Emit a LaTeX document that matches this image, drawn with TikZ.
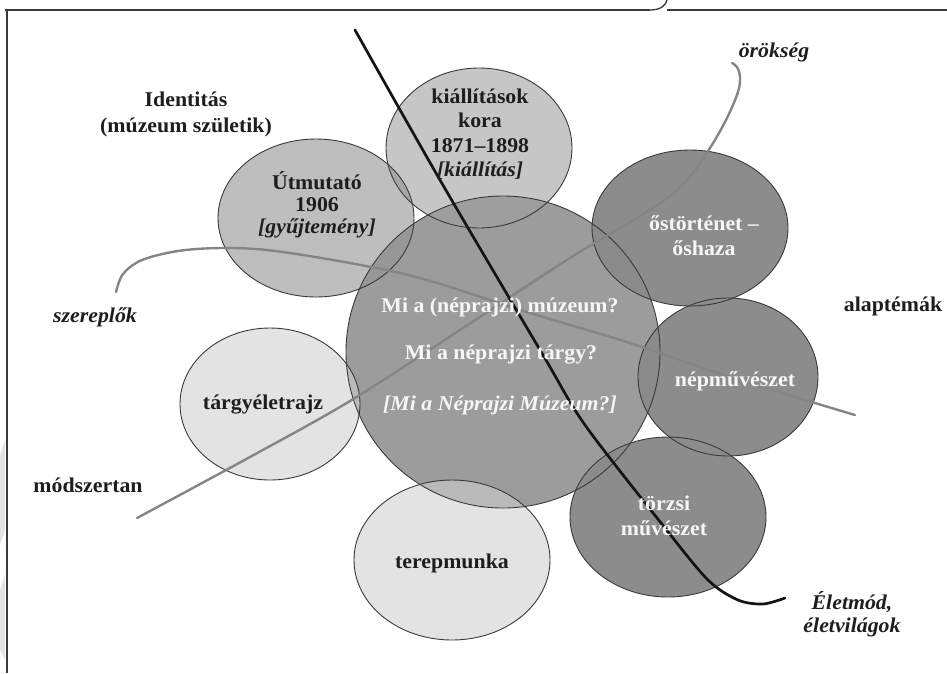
\documentclass[tikz,border=0pt]{standalone}
\usepackage{fontspec}
\setmainfont[FakeStretch=1.04]{Liberation Serif}
\definecolor{darkfill}{HTML}{8C8C8C}
\definecolor{mainfill}{HTML}{8B8B8B}
\definecolor{midfill}{HTML}{A0A0A0}
\definecolor{utfill}{HTML}{939393}
\definecolor{lightfill}{HTML}{D0D0D0}
\definecolor{edge}{HTML}{3A3A3A}
\definecolor{greyline}{HTML}{858585}
\definecolor{blackline}{HTML}{141414}
\definecolor{txtdark}{HTML}{1E1E1E}
\definecolor{txtlight}{HTML}{F6F6F6}
\definecolor{wmark}{HTML}{E2E2E2}
\begin{document}
\begin{tikzpicture}[x=1pt,y=-1pt,
  lab/.style={font=\fontsize{21}{24}\selectfont\bfseries, text=txtdark, inner sep=0pt, align=center},
  wlab/.style={lab, text=txtlight},
  edgeline/.style={draw=edge, line width=0.9pt},
  curvegrey/.style={draw=greyline, line width=2.4pt, line cap=round},
  curveblack/.style={draw=blackline, line width=2.7pt, line cap=round}]
\useasboundingbox (0,0) rectangle (947,673);
% watermark traces and frame
\fill[wmark] (0,455) -- (5,440) -- (5,530) -- (0,545) -- cycle;
\fill[wmark] (0,590) -- (5,575) -- (5,660) -- (0,650) -- cycle;
\draw[edge, line width=1.3pt] (5,10) -- (650,10);
\draw[edge, line width=1.3pt] (650,10) .. controls (661,10) and (666,5) .. (667,0);
\draw[edge, line width=1.3pt] (667,10) -- (947,10);
\draw[edge, line width=1.3pt] (7,10) -- (7,673);
% dark ellipses
\fill[darkfill] (690,228) ellipse [x radius=98pt, y radius=78pt];
\fill[darkfill] (728,377) ellipse [x radius=90pt, y radius=79pt];
\fill[darkfill] (668,517) ellipse [x radius=98pt, y radius=80pt];
% main circle
\fill[mainfill, fill opacity=0.85] (503,352) ellipse [x radius=157pt, y radius=156pt];
% light ellipses
\fill[midfill, fill opacity=0.6] (479,148) ellipse [x radius=93pt, y radius=80pt];
\fill[utfill, fill opacity=0.6] (316,218) ellipse [x radius=98pt, y radius=79pt];
\fill[lightfill, fill opacity=0.6] (270,404) ellipse [x radius=90pt, y radius=76pt];
\fill[lightfill, fill opacity=0.6] (452,560) ellipse [x radius=98pt, y radius=80pt];
% outlines
\draw[edgeline] (690,228) ellipse [x radius=98pt, y radius=78pt];
\draw[edgeline] (728,377) ellipse [x radius=90pt, y radius=79pt];
\draw[edgeline] (668,517) ellipse [x radius=98pt, y radius=80pt];
\draw[edgeline] (503,352) ellipse [x radius=157pt, y radius=156pt];
\draw[edgeline] (479,148) ellipse [x radius=93pt, y radius=80pt];
\draw[edgeline] (316,218) ellipse [x radius=98pt, y radius=79pt];
\draw[edgeline] (270,404) ellipse [x radius=90pt, y radius=76pt];
\draw[edgeline] (452,560) ellipse [x radius=98pt, y radius=80pt];
% grey curves
\draw[curvegrey] plot[smooth, tension=0.55] coordinates {(137,518) (250,457) (350,401) (460,330) (570,258) (653,208) (687,180) (710,148) (727,118) (738,92) (740,77) (737,67) (732,63)};
\draw[curvegrey] plot[smooth, tension=0.55] coordinates {(116,292) (123,274) (142,260) (178,251) (220,248) (267,250) (333,260) (400,273) (450,287) (530,313) (630,343) (730,377) (855,415)};
% black curve
\draw[curveblack] plot[smooth, tension=0.5] coordinates {(355,30) (440,180) (543,355) (585,425) (665,528) (708,580) (738,600) (763,604) (785,598)};
% texts in circles
\node[lab, font=\fontsize{21}{24.5}\selectfont\bfseries] (kiall) at (480,134) {kiállítások\\kora\\1871–1898\\\itshape [kiállítás]};
\node[lab, font=\fontsize{21}{22}\selectfont\bfseries] (utmut) at (317,205) {Útmutató\\1906\\\itshape [gyűjtemény]};
\node[wlab, font=\fontsize{21}{25}\selectfont\bfseries] (ostort) at (704,236) {őstörténet –\\őshaza};
\node[wlab] (q1) at (500,307) {Mi a (néprajzi) múzeum?};
\node[wlab] (q2) at (501,355) {Mi a néprajzi tárgy?};
\node[wlab] (q3) at (500,405) {\itshape [Mi a Néprajzi Múzeum?]};
\node[wlab] (nepmu) at (735,381) {népművészet};
\node[wlab, font=\fontsize{21}{25}\selectfont\bfseries] (torzsi) at (664,516) {törzsi\\művészet};
\node[lab] (terep) at (452,563) {terepmunka};
\node[lab] (targy) at (263,405) {tárgyéletrajz};
% outer labels
\node[lab, font=\fontsize{21}{26}\selectfont\bfseries] (ident) at (186,114) {Identitás\\(múzeum születik)};
\node[lab] (szerep) at (95,317) {\itshape szereplők};
\node[lab] (modsz) at (88,485) {módszertan};
\node[lab] (alapt) at (893,306) {alaptémák};
\node[lab] (oroks) at (774,52) {\itshape örökség};
\node[lab, font=\fontsize{21}{23}\selectfont\bfseries\itshape] (eletm) at (852,614) {Életmód,\\életvilágok};
\end{tikzpicture}
\end{document}
